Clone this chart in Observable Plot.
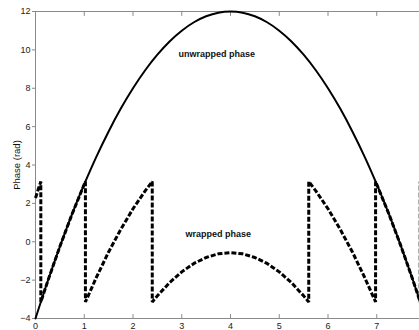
<!DOCTYPE html>
<html>
<head>
<meta charset="utf-8">
<script src="https://cdn.jsdelivr.net/npm/d3@7"></script>
<script src="https://cdn.jsdelivr.net/npm/@observablehq/plot@0.6"></script>
<style>
  html, body { margin: 0; padding: 0; background: #fff; overflow: hidden; }
  #chart svg { display: block; max-width: none !important; }
</style>
</head>
<body>
<div id="chart"></div>
<script>
// x samples (time-like axis)
const xs = [0,0.25,0.5,0.75,1,1.25,1.5,1.75,2,2.25,2.5,2.75,3,3.25,3.5,3.75,4,4.25,4.5,4.75,5,5.25,5.5,5.75,6,6.25,6.5,6.75,7,7.25,7.5,7.75,8];
// unwrapped phase values (rad)
const unwrapped = [-4,-2.06,-0.25,1.44,3,4.44,5.75,6.94,8,8.94,9.75,10.44,11,11.44,11.75,11.94,12,11.94,11.75,11.44,11,10.44,9.75,8.94,8,6.94,5.75,4.44,3,1.44,-0.25,-2.06,-4];
// wrapped phase (rad), including the jump points
const wrappedX = [0,0.05,0.109,0.109,0.25,0.5,0.75,1.024,1.024,1.25,1.5,1.75,2,2.25,2.395,2.395,2.5,2.75,3,3.25,3.5,3.75,4,4.25,4.5,4.75,5,5.25,5.5,5.605,5.605,5.75,6,6.25,6.5,6.75,6.976,6.976,7.25,7.5,7.75,7.891,7.891,7.95,8];
const wrappedY = [2.28,2.68,3.14,-3.14,-2.06,-0.25,1.44,3.14,-3.14,-1.85,-0.53,0.65,1.72,2.65,3.14,-3.14,-2.82,-2.13,-1.57,-1.13,-0.82,-0.63,-0.57,-0.63,-0.82,-1.13,-1.57,-2.13,-2.82,-3.14,3.14,2.65,1.72,0.65,-0.53,-1.85,-3.14,3.14,1.44,-0.25,-2.06,-3.14,3.14,2.68,2.28];
// axis ticks
const xTicks = [0,1,2,3,4,5,6,7];
const yTicks = [-4,-2,0,2,4,6,8,10,12];
// annotations
const annLabels = ["unwrapped phase", "wrapped phase"];
const annX = [3.72, 3.75];
const annY = [9.76, 0.38];

const unwrappedData = xs.map((x, i) => ({x, y: unwrapped[i]}));
const wrappedData = wrappedX.map((x, i) => ({x, y: wrappedY[i]}));
const annData = annLabels.map((t, i) => ({t, x: annX[i], y: annY[i]}));

const tickShape = {draw(context, l) { context.moveTo(0, 0); context.lineTo(0, -l); }};
const frameColor = "#8a8a8a";

const chart = Plot.plot({
  width: 425,
  height: 330,
  marginLeft: 35,
  marginRight: 0,
  marginTop: 11,
  marginBottom: 12,
  style: {fontFamily: "'Liberation Sans', Arial, sans-serif", fontSize: "9px", color: "#222", background: "#fff"},
  x: {domain: [0, 8]},
  y: {domain: [-4, 12]},
  marks: [
    Plot.frame({stroke: frameColor}),
    Plot.vector(xTicks, {x: d => d, y: -4, length: 4, rotate: 0, anchor: "start", shape: tickShape, stroke: frameColor, strokeWidth: 1}),
    Plot.vector(xTicks, {x: d => d, y: 12, length: 4, rotate: 180, anchor: "start", shape: tickShape, stroke: frameColor, strokeWidth: 1}),
    Plot.axisX(xTicks, {tickSize: 0, tickPadding: 4, label: null, fill: "#222"}),
    Plot.axisY(yTicks, {tickSize: 3, tickPadding: 2, stroke: frameColor, label: null, fill: "#222"}),
    Plot.line(unwrappedData, {x: "x", y: "y", stroke: "#000", strokeWidth: 2, curve: "catmull-rom"}),
    Plot.line(wrappedData, {x: "x", y: "y", stroke: "#000", strokeWidth: 3, strokeDasharray: "5,2", strokeLinecap: "butt", strokeLinejoin: "miter", curve: "linear"}),
    Plot.text(annData, {x: "x", y: "y", text: "t", fontSize: 9, fontWeight: "bold", fill: "#111"})
  ]
});
chart.style.maxWidth = "none";

const wrap = document.getElementById("chart");
wrap.style.position = "relative";
wrap.appendChild(chart);
const ylab = document.createElement("div");
ylab.textContent = "Phase (rad)";
ylab.style.cssText = "position:absolute;left:16px;top:165px;transform:translate(-50%,-50%) rotate(-90deg);font:9.5px 'Liberation Sans', Arial, sans-serif;color:#111;white-space:nowrap;";
wrap.appendChild(ylab);
</script>
</body>
</html>
